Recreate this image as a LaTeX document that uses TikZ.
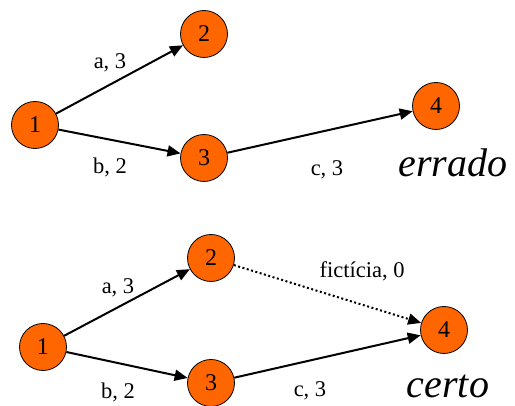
\documentclass[tikz,border=0pt]{standalone}
\usepackage{fontspec}
\setmainfont{Liberation Serif}
\usetikzlibrary{arrows.meta}
\tikzset{
  vert/.style={circle, draw=black, line width=0.8pt, fill={rgb,255:red,255;green,102;blue,0}, minimum size=47pt, inner sep=0pt, font=\fontsize{24}{26}\selectfont},
  edge/.style={line width=2pt, -{Triangle[length=13pt,width=11pt]}},
  fict/.style={line width=2pt, dash pattern=on 2pt off 2.5pt, -{Triangle[length=13pt,width=11pt]}},
  lbl/.style={font=\fontsize{22.5}{24}\selectfont, inner sep=0pt},
  big/.style={font=\fontsize{40}{44}\itshape\selectfont, inner sep=0pt, anchor=base}
}
\begin{document}
\begin{tikzpicture}[x=1pt,y=1pt]
\useasboundingbox (0,0) rectangle (515,406);
% top graph
\node[vert] (t1) at (35,281) {1};
\node[vert] (t2) at (204,372) {2};
\node[vert] (t3) at (204,248) {3};
\node[vert] (t4) at (436,300) {4};
\draw[edge] (t1) -- (t2);
\draw[edge] (t1) -- (t3);
\draw[edge] (t3) -- (t4);
\node[lbl] (la1) at (110,343) {a, 3};
\node[lbl] (lb1) at (110,239) {b, 2};
\node[lbl] (lc1) at (327,236) {c, 3};
\node[big] (err) at (453,229) {errado};
% bottom graph
\node[vert] (b1) at (43,59) {1};
\node[vert] (b2) at (211,148) {2};
\node[vert] (b3) at (211,23) {3};
\node[vert] (b4) at (444,76) {4};
\draw[edge] (b1) -- (b2);
\draw[edge] (b1) -- (b3);
\draw[edge] (b3) -- (b4);
\draw[fict] (b2) -- (b4);
\node[lbl] (la2) at (118,118) {a, 3};
\node[lbl] (lb2) at (118,14) {b, 2};
\node[lbl] (lc2) at (310,15) {c, 3};
\node[lbl] (lf) at (362,135) {fictícia, 0};
\node[big] (cer) at (448,8) {certo};
\end{tikzpicture}
\end{document}
